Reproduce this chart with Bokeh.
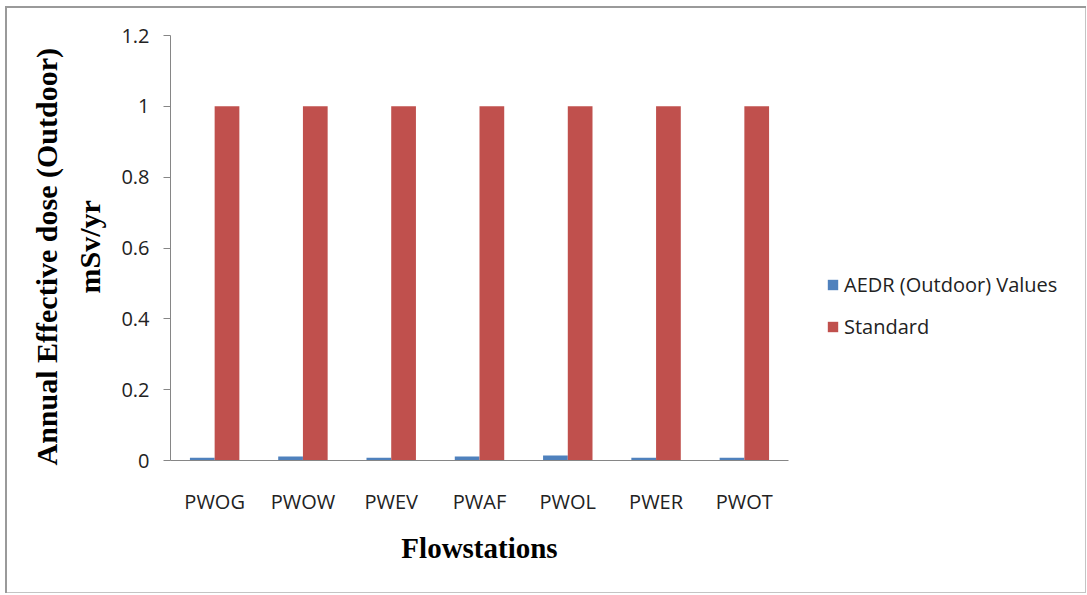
from bokeh.plotting import figure
from bokeh.models import (ColumnDataSource, Range1d, FixedTicker, Legend, LegendItem, Title)
from bokeh.transform import dodge
from bokeh.embed import file_html
from bokeh.resources import INLINE

# ---- data ----
categories = ["PWOG", "PWOW", "PWEV", "PWAF", "PWOL", "PWER", "PWOT"]
aedr_values = [0.008, 0.011, 0.008, 0.011, 0.014, 0.008, 0.008]
standard_values = [1, 1, 1, 1, 1, 1, 1]
y_ticks = [0, 0.2, 0.4, 0.6, 0.8, 1, 1.2]
y_tick_labels = ["0", "0.2", "0.4", "0.6", "0.8", "1", "1.2"]
series_names = ["AEDR (Outdoor) Values", "Standard"]
x_title = "Flowstations"
y_title_lines = ["Annual Effective dose (Outdoor)", "mSv/yr"]

BLUE = "#4F81BD"
RED = "#C0504D"
AXIS = "#868686"
TICK_FONT = "Open Sans"
TITLE_FONT = "Liberation Serif"

src = ColumnDataSource(dict(cat=categories, aedr=aedr_values, std=standard_values))

p = figure(x_range=categories, y_range=Range1d(0, 1.2),
           frame_width=618, frame_height=425,
           output_backend="svg", toolbar_location=None,
           min_border_left=170, min_border_right=299, min_border_top=35, min_border_bottom=135)
p.background_fill_color = "white"
p.border_fill_alpha = 0
p.outline_line_color = None
p.xgrid.visible = False
p.ygrid.visible = False
g = "linear-gradient(#9a9a9a,#9a9a9a)"
g2 = "linear-gradient(#c4c4c4,#c4c4c4)"
p.styles = {
    "background": (f"{g} 5px 6px / 2px 587px no-repeat, "
                   f"{g} 5px 6px / 1081px 2px no-repeat, "
                   f"{g2} 1085px 6px / 1px 587px no-repeat, "
                   f"{g2} 5px 592px / 1081px 1px no-repeat, white")
}

bw = 0.28
r1 = p.vbar(x=dodge("cat", -bw / 2, range=p.x_range), top="aedr", width=bw, source=src,
            fill_color=BLUE, line_color=None)
r2 = p.vbar(x=dodge("cat", bw / 2, range=p.x_range), top="std", width=bw, source=src,
            fill_color=RED, line_color=None)

# y axis
ya = p.yaxis[0]
ya.ticker = FixedTicker(ticks=y_ticks)
ya.major_label_overrides = dict(zip(y_ticks, y_tick_labels))
ya.axis_line_color = AXIS
ya.major_tick_line_color = AXIS
ya.major_tick_in = 0
ya.major_tick_out = 7
ya.minor_tick_line_color = None
ya.major_label_standoff = 14
ya.major_label_text_font = TICK_FONT
ya.major_label_text_font_size = "20px"
ya.major_label_text_color = "#222222"

# x axis
xa = p.xaxis[0]
xa.axis_line_color = AXIS
xa.major_tick_line_color = None
xa.minor_tick_line_color = None
xa.major_label_standoff = 21
xa.major_label_text_font = TICK_FONT
xa.major_label_text_font_size = "20px"
xa.major_label_text_color = "#222222"

# legend
legend = Legend(items=[LegendItem(label=series_names[0], renderers=[r1]),
                       LegendItem(label=series_names[1], renderers=[r2])],
                location=(38, 120), orientation="vertical",
                glyph_width=13, glyph_height=13, label_standoff=5,
                spacing=15, padding=0, margin=0,
                border_line_color=None, background_fill_alpha=0,
                label_text_font=TICK_FONT, label_text_font_size="20px",
                label_text_color="#222222")
p.add_layout(legend, "right")

# titles
p.add_layout(Title(text=x_title, align="center", text_font=TITLE_FONT,
                   text_font_style="bold", text_font_size="29px", text_color="black",
                   standoff=25), "below")
p.add_layout(Title(text=y_title_lines[1], align="left", text_font=TITLE_FONT,
                   text_font_style="bold", text_font_size="30px", text_color="black",
                   standoff=26, offset=167), "left")
p.add_layout(Title(text=y_title_lines[0], align="left", text_font=TITLE_FONT,
                   text_font_style="bold", text_font_size="30px", text_color="black",
                   standoff=-10, offset=-5), "left")

open("out.html", "w").write(file_html(p, INLINE))
